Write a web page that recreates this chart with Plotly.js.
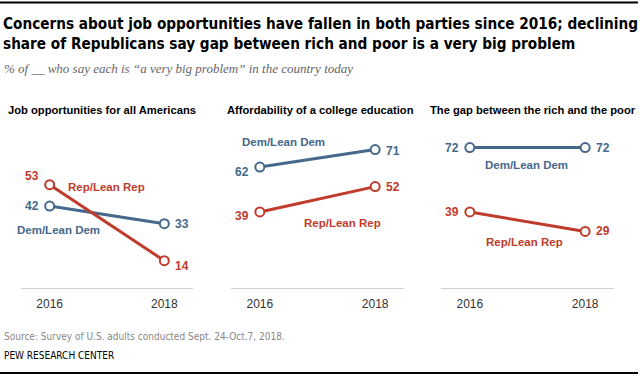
<!DOCTYPE html>
<html>
<head>
<meta charset="utf-8">
<script src="https://cdn.plot.ly/plotly-3.0.1.min.js"></script>
<style>
html,body{margin:0;padding:0;background:#fff;}
#chart{width:640px;height:378px;}
</style>
</head>
<body>
<div id="chart"></div>
<script>
// ---- data ----
const years = [2016, 2018];
const panelTitles = [
  "Job opportunities for all Americans",
  "Affordability of a college education",
  "The gap between the rich and the poor"
];
const demValues = [[42, 33], [62, 71], [72, 72]];
const repValues = [[53, 14], [39, 52], [39, 29]];
const demName = "Dem/Lean Dem";
const repName = "Rep/Lean Rep";
const yearLabels = ["2016", "2018"];

// ---- styles ----
const RED = "#bf3b2c";
const BLUE = "#46698b";
const W = 640, H = 378;
const yBottomPx = 288, yTopPx = 93;
const yDom = [(H - yBottomPx) / H, (H - yTopPx) / H];
const xDomPx = [[21, 193], [231, 404], [441, 614]];
const axKeys = ["x", "x2", "x3"];
const lblFont = {family: "Liberation Sans, Arial, sans-serif", size: 12};

const traces = [];
const annotations = [];
const layout = {
  width: W, height: H,
  margin: {l: 0, r: 0, t: 0, b: 0},
  paper_bgcolor: "#fff", plot_bgcolor: "rgba(0,0,0,0)",
  showlegend: false,
  yaxis: {domain: yDom, range: [0, 100], visible: false, fixedrange: true},
  annotations: annotations,
  shapes: [
    {type: "line", xref: "paper", yref: "paper", x0: 0, x1: 638 / W, y0: (H - 2.5) / H, y1: (H - 2.5) / H, line: {color: "#000", width: 2}},
    {type: "line", xref: "paper", yref: "paper", x0: 0, x1: 638 / W, y0: (H - 373) / H, y1: (H - 373) / H, line: {color: "#000", width: 2}}
  ]
};

function addSeries(i, vals, color) {
  traces.push({
    x: years, y: vals, xaxis: axKeys[i], yaxis: "y",
    type: "scatter", mode: "lines+markers",
    line: {color: color, width: 3},
    marker: {symbol: "circle", size: 9, color: "#fff", line: {color: color, width: 2}},
    hoverinfo: "skip", cliponaxis: false
  });
}

for (let i = 0; i < 3; i++) {
  addSeries(i, demValues[i], BLUE);
  addSeries(i, repValues[i], RED);
  const axName = i === 0 ? "xaxis" : "xaxis" + (i + 1);
  layout[axName] = {
    domain: [xDomPx[i][0] / W, xDomPx[i][1] / W],
    range: [2015.5, 2018.5],
    anchor: "y",
    showgrid: false, zeroline: false,
    showline: true, linecolor: "#cfcfcf", linewidth: 1,
    tickvals: years, ticktext: yearLabels,
    ticks: "outside", ticklen: 5, tickcolor: "rgba(0,0,0,0)",
    tickfont: {family: "Liberation Sans, Arial, sans-serif", size: 12, color: "#333"},
    fixedrange: true
  };
}

// panel titles
const titleCenters = [102, 320, 533];
panelTitles.forEach((t, i) => annotations.push({
  text: "<b>" + t + "</b>", xref: "paper", yref: "paper",
  x: titleCenters[i] / W, y: (H - 110) / H, xanchor: "center", yanchor: "middle",
  showarrow: false, font: {family: "Liberation Sans, Arial, sans-serif", size: 11.2, color: "#000"}
}));

// value labels: [panel, yearIndex, series('d'|'r'), xshift, yshift]
const valueLabelSpecs = [
  [0, 0, "r", -18, 9], [0, 0, "d", -18, 0], [0, 1, "d", 18, 0], [0, 1, "r", 18, -5],
  [1, 1, "d", 18, -1], [1, 0, "d", -18, -5], [1, 1, "r", 18, 0], [1, 0, "r", -18, -4],
  [2, 0, "d", -18, 0], [2, 1, "d", 18, 0], [2, 0, "r", -18, 0], [2, 1, "r", 18, 0]
];
valueLabelSpecs.forEach(([p, yi, s, dx, dy]) => {
  const v = (s === "d" ? demValues : repValues)[p][yi];
  annotations.push({
    text: "<b>" + v + "</b>", xref: axKeys[p], yref: "y",
    x: years[yi], y: v, xshift: dx, yshift: dy,
    xanchor: "center", yanchor: "middle", showarrow: false,
    font: Object.assign({}, lblFont, {color: s === "d" ? BLUE : RED})
  });
});

// series name labels [panel, series, x, y]
const nameSpecs = [
  [0, "r", 2016.99, 52], [0, "d", 2016.15, 29.7],
  [1, "d", 2016.41, 74.7], [1, "r", 2017.43, 33.2],
  [2, "d", 2016.98, 63.1], [2, "r", 2016.95, 23.7]
];
nameSpecs.forEach(([p, s, x, y]) => annotations.push({
  text: "<b>" + (s === "d" ? demName : repName) + "</b>", xref: axKeys[p], yref: "y",
  x: x, y: y, xanchor: "center", yanchor: "middle", showarrow: false,
  font: Object.assign({}, lblFont, {size: 11.5, color: s === "d" ? BLUE : RED})
}));

// header & footer
const headFont = "DejaVu Sans Condensed, Liberation Sans Narrow, sans-serif";
annotations.push({
  text: "<b>Concerns about job opportunities have fallen in both parties since 2016; declining</b>",
  xref: "paper", yref: "paper", x: 1 / W, y: (H - 24) / H, xanchor: "left", yanchor: "middle",
  showarrow: false, font: {family: headFont, size: 15.2, color: "#000"}
});
annotations.push({
  text: "<b>share of Republicans say gap between rich and poor is a very big problem</b>",
  xref: "paper", yref: "paper", x: 1 / W, y: (H - 44) / H, xanchor: "left", yanchor: "middle",
  showarrow: false, font: {family: headFont, size: 15.2, color: "#000"}
});
annotations.push({
  text: "<i>% of __ who say each is “a very big problem” in the country today</i>",
  xref: "paper", yref: "paper", x: 2 / W, y: (H - 68) / H, xanchor: "left", yanchor: "middle",
  showarrow: false, font: {family: "Liberation Serif, DejaVu Serif, serif", size: 13, color: "#666"}
});
annotations.push({
  text: "Source: Survey of U.S. adults conducted Sept. 24-Oct.7, 2018.",
  xref: "paper", yref: "paper", x: 2 / W, y: (H - 336) / H, xanchor: "left", yanchor: "middle",
  showarrow: false, font: {family: headFont, size: 10, color: "#888"}
});
annotations.push({
  text: "PEW RESEARCH CENTER",
  xref: "paper", yref: "paper", x: 2 / W, y: (H - 355) / H, xanchor: "left", yanchor: "middle",
  showarrow: false, font: {family: headFont, size: 10, color: "#000"}
});

Plotly.newPlot("chart", traces, layout, {displayModeBar: false, staticPlot: true});
</script>
</body>
</html>
